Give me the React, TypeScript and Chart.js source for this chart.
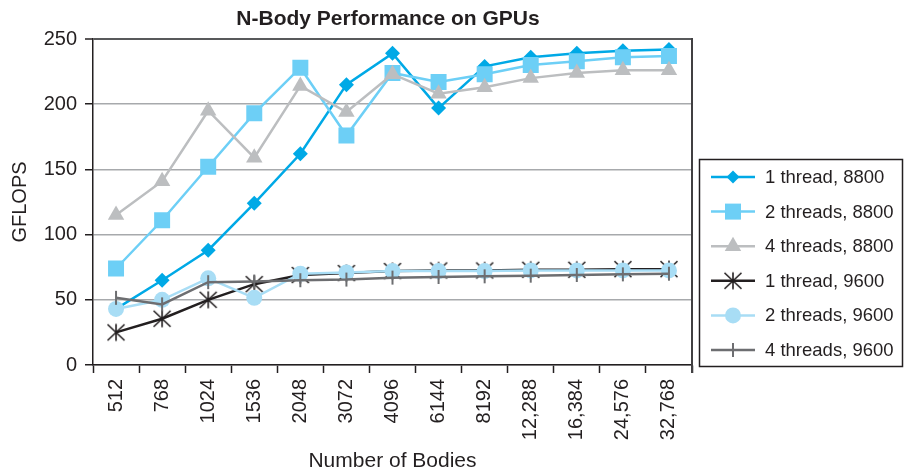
import React, { useEffect, useRef } from 'react';
import { Chart, registerables } from 'chart.js';

Chart.register(...registerables);

// ---------- data ----------
const categories = ['512', '768', '1024', '1536', '2048', '3072', '4096', '6144', '8192', '12,288', '16,384', '24,576', '32,768'];
const oneThread8800 = [43, 65, 88, 124, 162, 215, 239, 197, 229, 236, 239, 241, 242];
const twoThreads8800 = [74, 111, 152, 193, 228, 176, 224, 217, 223, 230, 233, 236, 237];
const fourThreads8800 = [115, 141, 195, 159, 214, 194, 223, 208, 213, 220, 224, 226, 226];
const oneThread9600 = [25, 35.5, 50, 62, 69, 70.5, 72, 72.5, 72.5, 73, 73, 73.5, 73.5];
const twoThreads9600 = [43, 50, 66.5, 51.5, 70, 71, 72, 72, 72, 72.5, 72.5, 72.5, 72.5];
const fourThreads9600 = [51.5, 46.5, 63.5, 64, 65, 65.5, 67, 67.5, 68, 68.5, 69, 69.5, 70];
const seriesNames = ['1 thread, 8800', '2 threads, 8800', '4 threads, 8800', '1 thread, 9600', '2 threads, 9600', '4 threads, 9600'];
const yTicks = [0, 50, 100, 150, 200, 250];

const chartTitle = 'N-Body Performance on GPUs';
const xTitle = 'Number of Bodies';
const yTitle = 'GFLOPS';

// ---------- style ----------
const FONT = '"Liberation Sans", Arial, Helvetica, sans-serif';
const TEXT = '#231F20';
const C1 = '#00A9E6';
const C2 = '#6DCFF6';
const C3 = '#BCBEC0';
const C4 = '#231F20';
const C5 = '#A8DDF5';
const C6 = '#6D6E71';

function makeAsterisk(color: string): HTMLCanvasElement {
  const size = 20;
  const c = document.createElement('canvas');
  c.width = size;
  c.height = size;
  const ctx = c.getContext('2d')!;
  ctx.strokeStyle = color;
  ctx.lineWidth = 1.6;
  const m = size / 2;
  ctx.beginPath();
  ctx.moveTo(m, m - 8.5);
  ctx.lineTo(m, m + 8.5);
  ctx.moveTo(m - 8.5, m - 8);
  ctx.lineTo(m + 8.5, m + 8);
  ctx.moveTo(m + 8.5, m - 8);
  ctx.lineTo(m - 8.5, m + 8);
  ctx.stroke();
  return c;
}

type MarkerKind = 'diamond' | 'square' | 'triangle' | 'asterisk' | 'circle' | 'cross';

function drawMarker(ctx: CanvasRenderingContext2D, kind: MarkerKind, x: number, y: number, color: string, img?: HTMLCanvasElement) {
  ctx.save();
  ctx.fillStyle = color;
  ctx.strokeStyle = color;
  ctx.beginPath();
  if (kind === 'diamond') {
    const r = 6.5;
    ctx.moveTo(x, y - r);
    ctx.lineTo(x + r, y);
    ctx.lineTo(x, y + r);
    ctx.lineTo(x - r, y);
    ctx.closePath();
    ctx.fill();
  } else if (kind === 'square') {
    const h = 8;
    ctx.rect(x - h, y - h, 2 * h, 2 * h);
    ctx.fill();
  } else if (kind === 'triangle') {
    const r = 9.5;
    ctx.moveTo(x, y - r);
    ctx.lineTo(x + r * 0.866, y + r / 2);
    ctx.lineTo(x - r * 0.866, y + r / 2);
    ctx.closePath();
    ctx.fill();
  } else if (kind === 'circle') {
    ctx.arc(x, y, 8, 0, Math.PI * 2);
    ctx.fill();
  } else if (kind === 'cross') {
    ctx.lineWidth = 2;
    ctx.moveTo(x, y - 7);
    ctx.lineTo(x, y + 7);
    ctx.stroke();
  } else if (kind === 'asterisk' && img) {
    ctx.drawImage(img, x - img.width / 2, y - img.height / 2);
  }
  ctx.restore();
}

export default function App() {
  const canvasRef = useRef<HTMLCanvasElement | null>(null);

  useEffect(() => {
    document.body.style.margin = '0';
    const canvas = canvasRef.current;
    if (!canvas) return;
    const asterisk = makeAsterisk(C4);

    const legendItems: { name: string; color: string; kind: MarkerKind }[] = [
      { name: seriesNames[0], color: C1, kind: 'diamond' },
      { name: seriesNames[1], color: C2, kind: 'square' },
      { name: seriesNames[2], color: C3, kind: 'triangle' },
      { name: seriesNames[3], color: C4, kind: 'asterisk' },
      { name: seriesNames[4], color: C5, kind: 'circle' },
      { name: seriesNames[5], color: C6, kind: 'cross' },
    ];

    const decorPlugin = {
      id: 'decor',
      afterDatasetsDraw(chart: any) {
        const { ctx, chartArea } = chart;
        ctx.save();
        ctx.strokeStyle = '#414042';
        ctx.lineWidth = 2;
        ctx.beginPath();
        ctx.moveTo(chartArea.right, chartArea.top - 1);
        ctx.lineTo(chartArea.right, chartArea.bottom + 8);
        ctx.stroke();
        ctx.restore();
      },
      afterDraw(chart: any) {
        const ctx: CanvasRenderingContext2D = chart.ctx;
        ctx.save();
        // title
        ctx.fillStyle = TEXT;
        ctx.font = `bold 21px ${FONT}`;
        ctx.textAlign = 'center';
        ctx.textBaseline = 'alphabetic';
        ctx.fillText(chartTitle, 388, 25);
        // legend box
        ctx.strokeStyle = TEXT;
        ctx.lineWidth = 1.5;
        ctx.strokeRect(699.5, 159.5, 203, 207);
        ctx.font = `18.5px ${FONT}`;
        ctx.textAlign = 'left';
        ctx.textBaseline = 'middle';
        legendItems.forEach((it, i) => {
          const y = 177 + i * 34.6;
          ctx.strokeStyle = it.color;
          ctx.lineWidth = 2.5;
          ctx.beginPath();
          ctx.moveTo(711, y);
          ctx.lineTo(755, y);
          ctx.stroke();
          drawMarker(ctx, it.kind, 733, y, it.color, asterisk);
          ctx.fillStyle = TEXT;
          ctx.fillText(it.name, 765, y + 1);
        });
        ctx.restore();
      },
    };

    const chart = new Chart(canvas, {
      type: 'line',
      data: {
        labels: categories,
        datasets: [
          { label: seriesNames[0], data: oneThread8800, borderColor: C1, backgroundColor: C1, pointBackgroundColor: C1, pointBorderColor: C1, pointStyle: 'rectRot', pointRadius: 7.5, borderWidth: 2.5, pointBorderWidth: 0, order: 4 },
          { label: seriesNames[1], data: twoThreads8800, borderColor: C2, backgroundColor: C2, pointBackgroundColor: C2, pointBorderColor: C2, pointStyle: 'rect', pointRadius: 11.3, borderWidth: 2.5, pointBorderWidth: 0, order: 3 },
          { label: seriesNames[2], data: fourThreads8800, borderColor: C3, backgroundColor: C3, pointBackgroundColor: C3, pointBorderColor: C3, pointStyle: 'triangle', pointRadius: 9.5, borderWidth: 2.5, pointBorderWidth: 0, order: 2 },
          { label: seriesNames[3], data: oneThread9600, borderColor: C4, backgroundColor: C4, pointStyle: asterisk as any, pointRadius: 9, borderWidth: 2.5, order: 5 },
          { label: seriesNames[4], data: twoThreads9600, borderColor: C5, backgroundColor: C5, pointBackgroundColor: C5, pointBorderColor: C5, pointStyle: 'circle', pointRadius: 8, borderWidth: 2.5, pointBorderWidth: 0, order: 1 },
          { label: seriesNames[5], data: fourThreads9600, borderColor: C6, backgroundColor: C6, pointBackgroundColor: C6, pointBorderColor: C6, pointStyle: 'line', pointRotation: 90, pointRadius: 7, borderWidth: 2.5, pointBorderWidth: 2, order: 0 },
        ],
      },
      options: {
        animation: false,
        responsive: false,
        devicePixelRatio: 1,
        events: [],
        layout: { padding: { top: 39, right: 212, left: 0, bottom: 0 } },
        plugins: {
          legend: { display: false },
          title: { display: false },
          tooltip: { enabled: false },
        },
        elements: { line: { tension: 0 } },
        scales: {
          x: {
            type: 'category',
            offset: true,
            grid: { offset: true, drawOnChartArea: false, drawTicks: true, tickLength: 8, tickColor: TEXT, tickWidth: 1.5 },
            border: { color: TEXT, width: 1.5 },
            ticks: { autoSkip: false, maxRotation: 90, minRotation: 90, padding: 6, color: TEXT, font: { family: FONT, size: 20 } },
            title: { display: true, text: xTitle, color: TEXT, font: { family: FONT, size: 21 }, padding: { top: 2, bottom: 0 } },
            afterFit: (s: any) => { s.height = 109; },
          },
          y: {
            min: 0,
            max: 250,
            afterBuildTicks: (s: any) => { s.ticks = yTicks.map((v) => ({ value: v })); },
            ticks: { padding: 8, color: TEXT, font: { family: FONT, size: 20 } },
            grid: {
              color: (c: any) => (c.tick && c.tick.value === 250 ? '#58595B' : '#A7A9AC'),
              lineWidth: (c: any) => (c.tick && c.tick.value === 250 ? 2 : 1.5),
              tickLength: 8,
              tickColor: TEXT,
              tickWidth: 1.5,
            },
            border: { color: TEXT, width: 1.5 },
            title: { display: true, text: yTitle, color: TEXT, font: { family: FONT, size: 20 }, padding: { top: 8, bottom: 0 } },
            afterFit: (s: any) => { s.width = 93; },
          },
        },
      },
      plugins: [decorPlugin],
    } as any);

    return () => chart.destroy();
  }, []);

  return (
    <div style={{ position: 'absolute', left: 0, top: 0, width: 904, height: 474 }}>
      <canvas ref={canvasRef} width={904} height={474} style={{ width: 904, height: 474, display: 'block' }} />
    </div>
  );
}
